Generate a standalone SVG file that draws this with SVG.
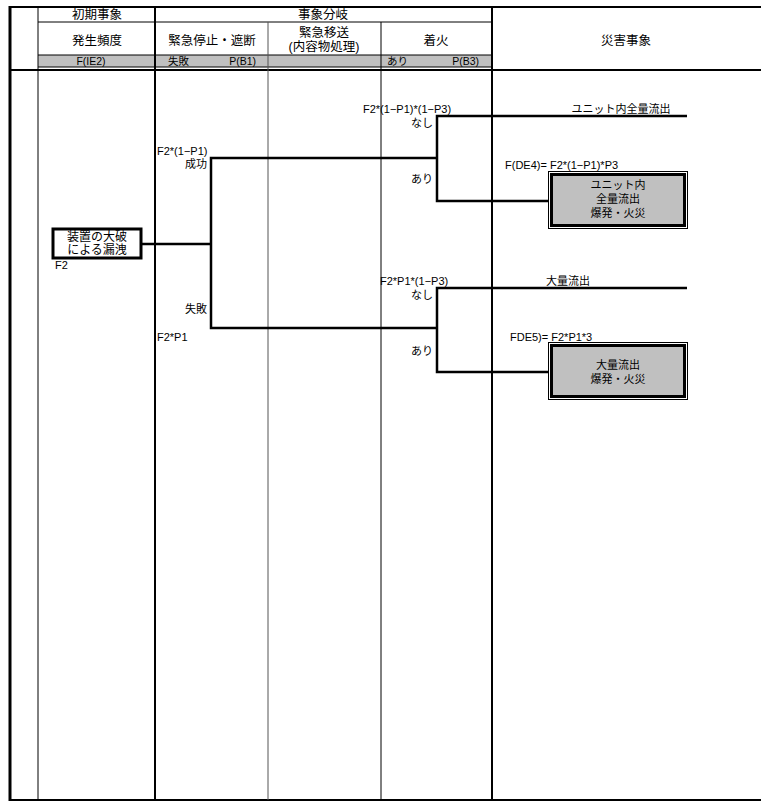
<svg xmlns="http://www.w3.org/2000/svg" width="761" height="801" viewBox="0 0 761 801">
<style>
text{font-family:"Liberation Sans","Noto Sans CJK JP",sans-serif;font-size:11px;fill:#000}
.h{font-size:12.5px}
.b{font-size:10.5px}
.n{font-size:12px}
.m{text-anchor:middle}
.e{text-anchor:end}
.thin{stroke:#000;stroke-width:1;fill:none}
.thk{stroke:#000;stroke-width:2;fill:none}
.br{stroke:#000;stroke-width:2.5;fill:none}
</style>
<rect width="761" height="801" fill="#fff"/>
<g id="table">
<rect x="38" y="55" width="454" height="12" fill="#c0c0c0"/>
<line class="thk" x1="10" y1="7" x2="761" y2="7"/>
<line class="thin" x1="38" y1="22" x2="492" y2="22"/>
<line class="thin" x1="38" y1="55" x2="492" y2="55"/>
<line class="thin" x1="38" y1="67" x2="492" y2="67"/>
<line class="thk" x1="10" y1="70" x2="761" y2="70"/>
<line class="thk" x1="10" y1="800" x2="761" y2="800"/>
<line x1="10" y1="6" x2="10" y2="801" stroke="#000" stroke-width="3"/>
<line class="thin" x1="38" y1="7" x2="38" y2="800"/>
<line class="thk" x1="155" y1="7" x2="155" y2="800"/>
<line x1="268" y1="22" x2="268" y2="800" stroke="#555" stroke-width="1"/>
<line class="thin" x1="381" y1="22" x2="381" y2="800"/>
<line class="thk" x1="492" y1="7" x2="492" y2="800"/>
<text class="h m" x="97" y="19">初期事象</text>
<text class="h m" x="323" y="19">事象分岐</text>
<text class="h m" x="97" y="45">発生頻度</text>
<text class="h m" x="212" y="45">緊急停止・遮断</text>
<text class="h m" x="324" y="37">緊急移送</text>
<text class="h m" x="324" y="51">(内容物処理)</text>
<text class="h m" x="436" y="45">着火</text>
<text class="h m" x="626" y="45">災害事象</text>
<text class="b m" x="91" y="65">F(IE2)</text>
<text class="b" x="168" y="65">失敗</text>
<text class="b e" x="256" y="65">P(B1)</text>
<text class="b" x="387" y="65">あり</text>
<text class="b e" x="479" y="65">P(B3)</text>
</g>
<g id="connectors">
<polyline class="br" points="142,244 211,244"/>
<polyline class="br" points="437,158 211,158 211,328 437,328"/>
<polyline class="br" points="687,116 437,116 437,201 549,201"/>
<polyline class="br" points="687,288 437,288 437,372 549,372"/>
</g>
<g id="initiating">
<rect x="53" y="229" width="88" height="29" fill="#fff" stroke="#000" stroke-width="3"/>
<text class="n m" x="97" y="241">装置の大破</text>
<text class="n m" x="97" y="254">による漏洩</text>
<text x="55" y="269">F2</text>
</g>
<g id="b1labels">
<text x="157" y="155">F2*(1−P1)</text>
<text class="e" x="207" y="168">成功</text>
<text class="e" x="207" y="313">失敗</text>
<text x="157" y="341">F2*P1</text>
</g>
<g id="b3upper">
<text x="363" y="113">F2*(1−P1)*(1−P3)</text>
<text class="e" x="433" y="127">なし</text>
<text class="e" x="433" y="183">あり</text>
<text class="m" x="621" y="113">ユニット内全量流出</text>
<text x="505" y="169">F(DE4)= F2*(1−P1)*P3</text>
</g>
<g id="de4">
<rect x="548.5" y="171.5" width="139" height="57" fill="none" stroke="#000" stroke-width="1"/>
<rect x="551.5" y="174.5" width="133" height="51" fill="#c0c0c0" stroke="#000" stroke-width="3"/>
<text class="m" x="618" y="189">ユニット内</text>
<text class="m" x="618" y="203">全量流出</text>
<text class="m" x="618" y="217">爆発・火災</text>
</g>
<g id="b3lower">
<text x="380" y="285">F2*P1*(1−P3)</text>
<text class="e" x="433" y="299">なし</text>
<text class="e" x="433" y="355">あり</text>
<text class="m" x="568" y="285">大量流出</text>
<text x="510" y="341">FDE5)= F2*P1*3</text>
</g>
<g id="de5">
<rect x="548.5" y="342.5" width="139" height="57" fill="none" stroke="#000" stroke-width="1"/>
<rect x="551.5" y="345.5" width="133" height="51" fill="#c0c0c0" stroke="#000" stroke-width="3"/>
<text class="m" x="618" y="369">大量流出</text>
<text class="m" x="618" y="383">爆発・火災</text>
</g>
</svg>
